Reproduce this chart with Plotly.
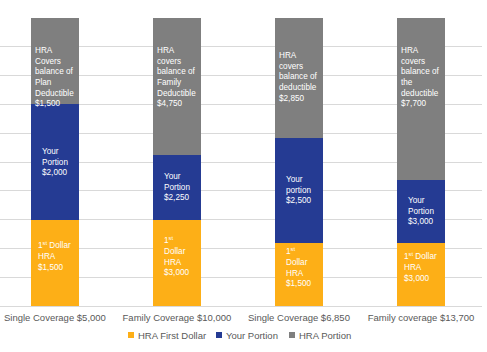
import plotly.graph_objects as go

categories = ["Single Coverage $5,000", "Family Coverage $10,000",
              "Single Coverage $6,850", "Family coverage $13,700"]
hra_first = [1500, 3000, 1500, 3000]
your_portion = [2000, 2250, 2500, 3000]
hra_portion = [1500, 4750, 2850, 7700]

series_names = ["HRA First Dollar", "Your Portion", "HRA Portion"]
colors = ["#FDAF17", "#253B93", "#7F7F7F"]

first_labels = ["1<sup>st</sup> Dollar<br>HRA<br>$1,500",
                "1<sup>st</sup><br>Dollar<br>HRA<br>$3,000",
                "1<sup>st</sup><br>Dollar<br>HRA<br>$1,500",
                "1<sup>st</sup> Dollar<br>HRA<br>$3,000"]
your_labels = ["Your<br>Portion<br>$2,000", "Your<br>Portion<br>$2,250",
               "Your<br>portion<br>$2,500", "Your<br>Portion<br>$3,000"]
hra_labels = ["HRA<br>Covers<br>balance of<br>Plan<br>Deductible<br>$1,500",
              "HRA<br>covers<br>balance of<br>Family<br>Deductible<br>$4,750",
              "HRA<br>covers<br>balance of<br>deductible<br>$2,850",
              "HRA<br>covers<br>balance of<br>the<br>deductible<br>$7,700"]

font_family = "Liberation Sans, Arial, sans-serif"
W, H = 487, 352
ML, MR, MT, MB = 0, 5, 18, 46
PW, PH = W - ML - MR, H - MT - MB

fig = go.Figure()
series = [hra_first, your_portion, hra_portion]
for name, vals, col in zip(series_names, series, colors):
    fig.add_trace(go.Bar(x=categories, y=vals, name=name, marker_color=col,
                         marker_line_width=0, showlegend=False, hoverinfo="skip"))

totals = [a + b + c for a, b, c in zip(hra_first, your_portion, hra_portion)]
annos = []
for i, cat in enumerate(categories):
    t = totals[i]
    p1 = hra_first[i] / t * 100
    p2 = your_portion[i] / t * 100
    ys = [p1 / 2 + 2.5, p1 + p2 / 2, 79.5]
    for lab, y in zip([first_labels[i], your_labels[i], hra_labels[i]], ys):
        annos.append(dict(x=cat, y=y, xref="x", yref="y", text=lab, showarrow=False,
                          xanchor="center", yanchor="middle", align="left",
                          font=dict(family=font_family, size=8.2, color="white")))

# legend (drawn below the plot: small squares + labels)
shapes = []
legend_px = [131, 219, 292]
legend_py = 335
sq = 3
for name, col, lx in zip(series_names, colors, legend_px):
    x0 = (lx - sq - ML) / PW
    x1 = (lx + sq - ML) / PW
    y0 = (H - MB - (legend_py + sq)) / PH
    y1 = (H - MB - (legend_py - sq)) / PH
    shapes.append(dict(type="rect", xref="paper", yref="paper", x0=x0, x1=x1,
                       y0=y0, y1=y1, fillcolor=col, line_width=0))
    annos.append(dict(x=(lx + 5 - ML) / PW, y=(H - MB - legend_py) / PH,
                      xref="paper", yref="paper", text=name, showarrow=False,
                      xanchor="left", yanchor="middle",
                      font=dict(family=font_family, size=9.5, color="#595959")))

fig.update_layout(
    barmode="stack", barnorm="percent", bargap=0.6025,
    width=W, height=H,
    margin=dict(l=ML, r=MR, t=MT, b=MB),
    plot_bgcolor="white", paper_bgcolor="white",
    font=dict(family=font_family, size=9.5, color="#595959"),
    xaxis=dict(range=[-0.45, 3.5], showgrid=False, showline=False, ticks="",
               ticklabelstandoff=4, tickfont=dict(size=9.5, color="#595959")),
    yaxis=dict(range=[0, 100], dtick=10, showgrid=True, gridcolor="#D9D9D9",
               gridwidth=1, showticklabels=False, zeroline=True,
               zerolinecolor="#D9D9D9", zerolinewidth=1),
    showlegend=False,
    annotations=annos,
    shapes=shapes,
)
fig.write_html("out.html")
